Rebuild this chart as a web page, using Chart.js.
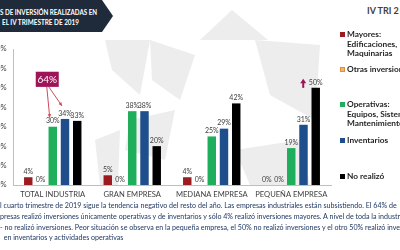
<!DOCTYPE html>
<html><head><meta charset="utf-8">
<script src="https://cdn.jsdelivr.net/npm/chart.js@4/dist/chart.umd.min.js"></script>
<style>
html,body{margin:0;padding:0;background:#fff;width:400px;height:250px;overflow:hidden;position:relative;font-family:Lato,"Open Sans",sans-serif}
#bg{position:absolute;left:0;top:0}
#c{position:absolute;left:0;top:0}
#legend .it{position:absolute;left:347px;font:bold 8.3px Lato,sans-serif;color:#262626;line-height:9.5px;white-space:nowrap}
#legend .sw{position:absolute;left:-7px;top:2px;width:5px;height:5px;box-sizing:border-box}
#para{position:absolute;left:0;top:201px;font:7.1px Lato,sans-serif;color:#1F3864;line-height:10.8px;white-space:nowrap}
</style></head><body>
<svg id="bg" width="400" height="250">
  <g fill="#ededed">
    <polygon points="200,40 232,10 268,40"/>
    <polygon points="105,40 150,40 140,95 112,70"/>
    <polygon points="150,40 195,55 180,100 152,80"/>
    <polygon points="255,40 320,45 315,120 270,95"/>
    <polygon points="235,150 300,140 310,185 250,185"/>
    <polygon points="130,120 175,110 165,160 125,150"/>
    <polygon points="95,140 120,130 118,185 100,185"/>
  </g>
  <polygon points="0,0 102,0 113,16 102,32 0,32" fill="#1f2b3b"/>
  <text x="0" y="15" fill="#fff" font-family="Lato" font-weight="bold" font-size="7" textLength="97" lengthAdjust="spacingAndGlyphs">S DE INVERSIÓN REALIZADAS EN</text>
  <text x="2" y="25" fill="#fff" font-family="Lato" font-weight="bold" font-size="7" textLength="77" lengthAdjust="spacingAndGlyphs">EL IV TRIMESTRE DE 2019</text>
  <text x="367" y="14" fill="#404040" font-family="Lato" font-weight="bold" font-size="9">IV TRI 2</text>
</svg>
<canvas id="c" width="400" height="250"></canvas>
<div id="legend"></div>
<div id="para"></div>
<script>
const categories = ["TOTAL INDUSTRIA", "GRAN EMPRESA", "MEDIANA EMPRESA", "PEQUEÑA EMPRESA"];
const mayores     = [4, 5, 4, 0];
const otras       = [0, 0, 0, 0];
const operativas  = [30, 38, 25, 19];
const inventarios = [34, 38, 29, 31];
const noRealizo   = [33, 20, 42, 50];
const yTicks = [0, 10, 20, 30, 40, 50, 60, 70];
const seriesNames = [["Mayores:", "Edificaciones,", "Maquinarias"], ["Otras inversiones"], ["Operativas:", "Equipos, Sistemas,", "Mantenimiento"], ["Inventarios"], ["No realizó"]];
const highlightLabel = "64%";
const paragraph = [
  "l cuarto trimestre de 2019 sigue la tendencia negativo del resto del año. Las empresas industriales están subsistiendo. El 64% de",
  "presas realizó inversiones únicamente operativas y de inventarios y sólo 4% realizó inversiones mayores. A nivel de toda la industri",
  "- no realizó inversiones. Peor situación se observa en la pequeña empresa, el 50% no realizó inversiones y el otro 50% realizó inversio",
  "  en inventarios y actividades operativas"
];

const colors = ["#9b1c20", "#f4b183", "#1fae5b", "#1f4e8c", "#000000"];
const borders = ["#9b1c20", "#e0922f", "#1fae5b", "#1f4e8c", "#000000"];
const allSeries = [mayores, otras, operativas, inventarios, noRealizo];

// legend
const legendY = [30, 65, 100, 136, 172];
const lg = document.getElementById('legend');
seriesNames.forEach((lines, i) => {
  const d = document.createElement('div');
  d.className = 'it';
  d.style.top = legendY[i] + 'px';
  d.innerHTML = lines.join('<br>');
  const s = document.createElement('div');
  s.className = 'sw';
  s.style.background = colors[i];
  s.style.border = '1px solid ' + borders[i];
  d.appendChild(s);
  lg.appendChild(d);
});
document.getElementById('para').innerHTML = paragraph.map(l => l.replace(/^ +/, m => '&nbsp;'.repeat(m.length))).join('<br>');

const labelPlugin = {
  id: 'labels',
  afterDatasetsDraw(chart) {
    const ctx = chart.ctx;
    ctx.save();
    const xs = chart.scales.x, ys = chart.scales.y;
    // y tick labels (partly cut at the left edge, as in the cropped source)
    ctx.font = '7.6px Lato';
    ctx.fillStyle = '#404040';
    ctx.textAlign = 'right';
    ctx.textBaseline = 'middle';
    ys.ticks.forEach(t => ctx.fillText(t.value + '%', 6.5, ys.getPixelForValue(t.value)));
    // data labels
    ctx.font = '7px Lato';
    ctx.textAlign = 'center';
    ctx.textBaseline = 'bottom';
    chart.data.datasets.forEach((ds, di) => {
      chart.getDatasetMeta(di).data.forEach((bar, i) => {
        ctx.fillText(ds.data[i] + '%', bar.x, bar.y - 2);
      });
    });
    // highlight box
    const cx = xs.getPixelForValue(0);
    const bx = cx - 17, bw = 23, by = ys.getPixelForValue(58.3), bh = ys.getPixelForValue(50.5) - by;
    const g = chart.getDatasetMeta(2).data[0], b = chart.getDatasetMeta(3).data[0];
    ctx.strokeStyle = '#d04a5a';
    ctx.fillStyle = '#d04a5a';
    ctx.lineWidth = 1;
    const arrow = (x1, y1, x2, y2) => {
      ctx.beginPath(); ctx.moveTo(x1, y1); ctx.lineTo(x2, y2); ctx.stroke();
      const a = Math.atan2(y2 - y1, x2 - x1), L = 4;
      ctx.beginPath(); ctx.moveTo(x2, y2);
      ctx.lineTo(x2 - L * Math.cos(a - 0.45), y2 - L * Math.sin(a - 0.45));
      ctx.lineTo(x2 - L * Math.cos(a + 0.45), y2 - L * Math.sin(a + 0.45));
      ctx.closePath(); ctx.fill();
    };
    arrow(bx + 11, by + bh, g.x - 3, g.y - 9);
    arrow(bx + 13, by + bh, b.x - 3, b.y - 13);
    ctx.fillStyle = '#9e1458';
    ctx.fillRect(bx, by, bw, bh);
    ctx.fillStyle = '#fff';
    ctx.font = '10px Lato';
    ctx.textAlign = 'center';
    ctx.textBaseline = 'middle';
    ctx.fillText(highlightLabel, bx + bw / 2, by + bh / 2 + 0.5);
    // up arrow near small-business no-invest bar
    const k = chart.getDatasetMeta(4).data[3];
    const ax = k.x - 12.5, ay = k.y;
    ctx.fillStyle = '#9e1458';
    ctx.fillRect(ax - 1, ay - 5, 2, 5);
    ctx.beginPath(); ctx.moveTo(ax, ay - 9); ctx.lineTo(ax - 3, ay - 4.5); ctx.lineTo(ax + 3, ay - 4.5); ctx.closePath(); ctx.fill();
    ctx.restore();
  }
};

new Chart(document.getElementById('c'), {
  type: 'bar',
  data: {
    labels: categories,
    datasets: allSeries.map((d, i) => ({
      label: seriesNames[i].join(' '),
      data: d,
      backgroundColor: colors[i],
      borderWidth: 0,
      barPercentage: 0.69,
      categoryPercentage: 0.77
    }))
  },
  options: {
    responsive: false,
    animation: false,
    devicePixelRatio: 1,
    layout: { padding: { left: 0, right: 69, top: 49, bottom: 35 } },
    plugins: { legend: { display: false }, tooltip: { enabled: false } },
    scales: {
      x: {
        grid: { display: false, drawTicks: false },
        border: { color: '#bfbfbf', width: 1 },
        ticks: { font: { family: 'Lato', size: 7.6 }, color: '#404040', padding: 5, maxRotation: 0, autoSkip: false },
        afterFit(s) { s.height = 30; }
      },
      y: {
        min: 0, max: 70,
        afterBuildTicks(s) { s.ticks = yTicks.map(v => ({ value: v })); },
        grid: { display: false, drawTicks: false },
        border: { color: '#bfbfbf', width: 1 },
        ticks: { display: false },
        afterFit(s) { s.width = 13; }
      }
    }
  },
  plugins: [labelPlugin]
});
</script>
</body></html>
